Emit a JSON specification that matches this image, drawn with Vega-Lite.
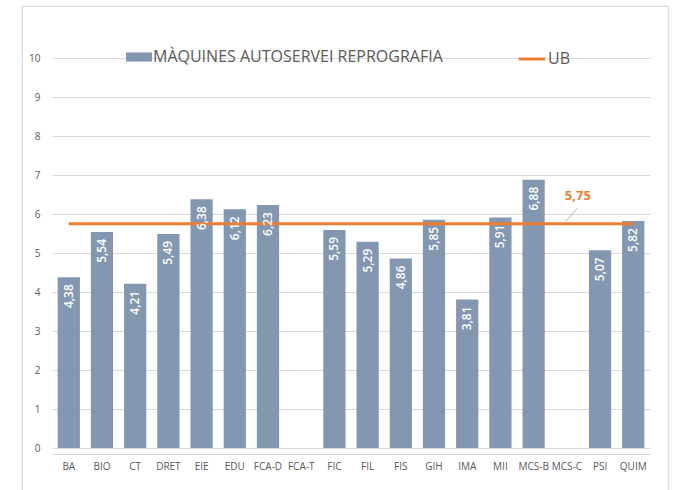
{
  "$schema": "https://vega.github.io/schema/vega-lite/v6.json",
  "autosize": {"type": "none"},
  "width": 646,
  "height": 486,
  "padding": {"left": 22, "top": 6, "right": 5, "bottom": 0},
  "background": "white",
  "config": {
    "locale": {"number": {"decimal": ",", "thousands": ".", "grouping": [3], "currency": ["", " €"]}},
    "view": {"stroke": "#d9d9d9", "strokeWidth": 1.2},
    "font": "Open Sans",
    "axis": {"labelColor": "#595959", "labelFont": "Open Sans", "labelFontSize": 10, "ticks": false, "title": null},
    "legend": {"labelFont": "Open Sans", "labelColor": "#595959", "labelFontSize": 16, "padding": 0, "title": null, "labelLimit": 0}
  },
  "datasets": {
    "rows": [
      {"centre": "BA", "valor": 4.38, "ub": 5.75},
      {"centre": "BIO", "valor": 5.54, "ub": 5.75},
      {"centre": "CT", "valor": 4.21, "ub": 5.75},
      {"centre": "DRET", "valor": 5.49, "ub": 5.75},
      {"centre": "EIE", "valor": 6.38, "ub": 5.75},
      {"centre": "EDU", "valor": 6.12, "ub": 5.75},
      {"centre": "FCA-D", "valor": 6.23, "ub": 5.75},
      {"centre": "FCA-T", "valor": null, "ub": 5.75},
      {"centre": "FIC", "valor": 5.59, "ub": 5.75},
      {"centre": "FIL", "valor": 5.29, "ub": 5.75},
      {"centre": "FIS", "valor": 4.86, "ub": 5.75},
      {"centre": "GIH", "valor": 5.85, "ub": 5.75},
      {"centre": "IMA", "valor": 3.81, "ub": 5.75},
      {"centre": "MII", "valor": 5.91, "ub": 5.75},
      {"centre": "MCS-B", "valor": 6.88, "ub": 5.75},
      {"centre": "MCS-C", "valor": null, "ub": 5.75},
      {"centre": "PSI", "valor": 5.07, "ub": 5.75},
      {"centre": "QUIM", "valor": 5.82, "ub": 5.75}
    ],
    "ubLabel": [
      {"centre": "MCS-C", "ub": 5.75, "label": "5,75"}
    ]
  },
  "data": {"name": "rows"},
  "encoding": {
    "x": {
      "field": "centre", "type": "nominal",
      "sort": ["BA","BIO","CT","DRET","EIE","EDU","FCA-D","FCA-T","FIC","FIL","FIS","GIH","IMA","MII","MCS-B","MCS-C","PSI","QUIM"],
      "scale": {"domain": ["BA","BIO","CT","DRET","EIE","EDU","FCA-D","FCA-T","FIC","FIL","FIS","GIH","IMA","MII","MCS-B","MCS-C","PSI","QUIM"], "range": [30, 628], "paddingInner": 0.33, "paddingOuter": 0.17},
      "axis": {"labelAngle": 0, "labelPadding": 7, "offset": -38, "domainColor": "#d9d9d9", "domainWidth": 1, "labelOverlap": false, "labelBound": false}
    }
  },
  "layer": [
    {
      "mark": {"type": "bar", "fill": "#8497b0"},
      "encoding": {
        "y": {
          "field": "valor", "type": "quantitative",
          "scale": {"domain": [0, 10], "range": [442, 52]},
          "axis": {"values": [0,1,2,3,4,5,6,7,8,9,10], "offset": -30, "labelOverlap": false, "domain": false, "gridColor": "#d9d9d9", "labelPadding": 12}
        },
        "fill": {
          "datum": "MÀQUINES AUTOSERVEI REPROGRAFIA",
          "scale": {"range": ["#8497b0"]},
          "legend": {"orient": "none", "legendX": 104, "legendY": 38, "symbolType": "M-1,-0.35L1,-0.35L1,0.35L-1,0.35Z", "symbolSize": 676, "symbolStrokeWidth": 0, "labelOffset": 1}
        }
      }
    },
    {
      "mark": {"type": "line", "strokeWidth": 3},
      "encoding": {
        "y": {"field": "ub", "type": "quantitative", "axis": {"values": [0,1,2,3,4,5,6,7,8,9,10], "offset": -30, "labelOverlap": false, "domain": false, "gridColor": "#d9d9d9", "labelPadding": 12}},
        "stroke": {
          "datum": "UB",
          "scale": {"range": ["#ed7d31"]},
          "legend": {"orient": "none", "legendX": 495, "legendY": 38, "symbolType": "stroke", "symbolSize": 700, "symbolStrokeWidth": 3, "labelOffset": 1}
        }
      }
    },
    {
      "transform": [{"filter": "datum.valor != null"}],
      "mark": {"type": "text", "angle": 270, "align": "right", "baseline": "middle", "dx": -7, "color": "white", "fontSize": 12, "fontWeight": 600},
      "encoding": {
        "y": {"field": "valor", "type": "quantitative", "axis": {"values": [0,1,2,3,4,5,6,7,8,9,10], "offset": -30, "labelOverlap": false, "domain": false, "gridColor": "#d9d9d9", "labelPadding": 12}},
        "text": {"field": "valor", "type": "quantitative", "format": ".2f"}
      }
    },
    {
      "data": {"name": "ubLabel"},
      "mark": {"type": "rule", "color": "#a6a6a6", "strokeWidth": 0.8, "xOffset": -3, "x2Offset": 11, "yOffset": 0, "y2Offset": -16},
      "encoding": {
        "x2": {"field": "centre"},
        "y": {"field": "ub", "type": "quantitative", "axis": {"values": [0,1,2,3,4,5,6,7,8,9,10], "offset": -30, "labelOverlap": false, "domain": false, "gridColor": "#d9d9d9", "labelPadding": 12}},
        "y2": {"field": "ub"}
      }
    },
    {
      "data": {"name": "ubLabel"},
      "mark": {"type": "text", "color": "#ed7d31", "fontSize": 13, "fontWeight": "bold", "dx": 11, "dy": -28, "baseline": "middle"},
      "encoding": {
        "y": {"field": "ub", "type": "quantitative", "axis": {"values": [0,1,2,3,4,5,6,7,8,9,10], "offset": -30, "labelOverlap": false, "domain": false, "gridColor": "#d9d9d9", "labelPadding": 12}},
        "text": {"field": "label"}
      }
    }
  ]
}
